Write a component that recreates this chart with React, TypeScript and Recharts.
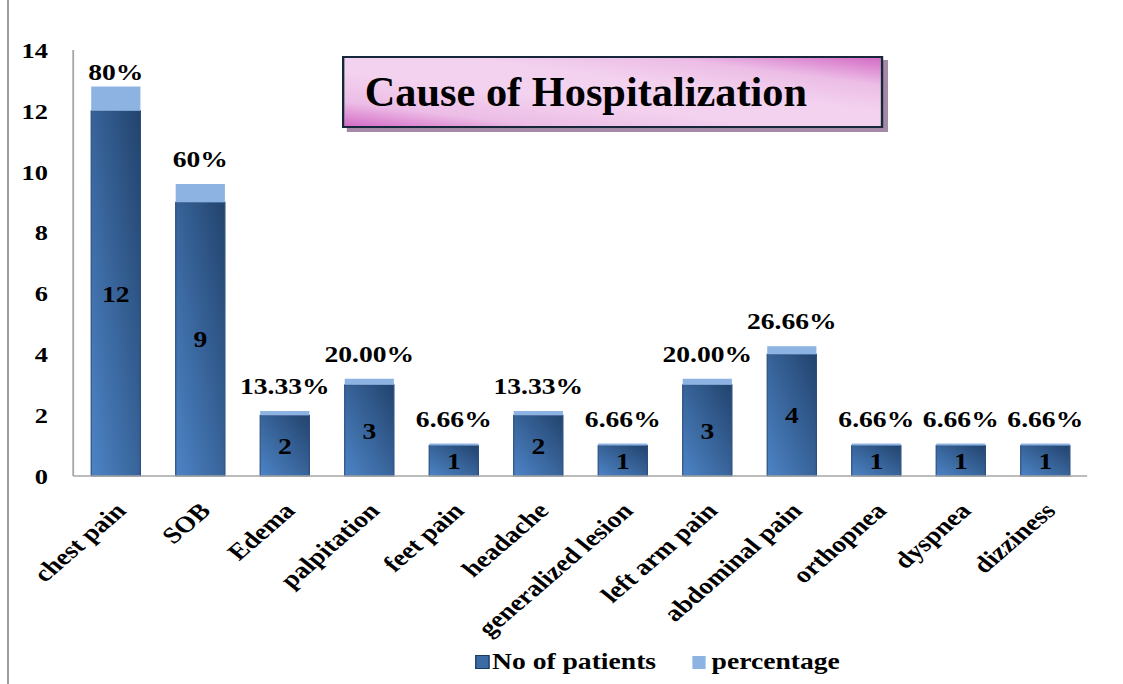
import React from 'react';
import { BarChart, Bar, XAxis, YAxis, LabelList } from 'recharts';

const categories = ['chest pain', 'SOB', 'Edema', 'palpitation', 'feet pain', 'headache', 'generalized lesion', 'left arm pain', 'abdominal pain', 'orthopnea', 'dyspnea', 'dizziness'];
const patients = [12, 9, 2, 3, 1, 2, 1, 3, 4, 1, 1, 1];
const percentage = [0.8, 0.6, 0.1333, 0.2, 0.0666, 0.1333, 0.0666, 0.2, 0.2666, 0.0666, 0.0666, 0.0666];
const pctLabels = ['80%', '60%', '13.33%', '20.00%', '6.66%', '13.33%', '6.66%', '20.00%', '26.66%', '6.66%', '6.66%', '6.66%'];
const yTicks = [0, 2, 4, 6, 8, 10, 12, 14];
const seriesNames = ['No of patients', 'percentage'];
const title = 'Cause of Hospitalization';

const data = categories.map((c, i) => ({
  name: c,
  patients: patients[i],
  percentage: percentage[i],
  pctLabel: pctLabels[i],
}));

const FONT = "'Liberation Serif', 'Times New Roman', serif";
const PLOT_TOP = 50;

const XTick = (props: any) => {
  const { x, y, payload } = props;
  const ax = x + 10;
  const ay = y + 28;
  return (
    <text
      x={ax}
      y={ay}
      textAnchor="end"
      transform={`rotate(-46 ${ax} ${ay})`}
      fontFamily={FONT}
      fontWeight="bold"
      fontSize={23}
      fill="#000"
    >
      {payload.value}
    </text>
  );
};

const renderPct = (props: any) => {
  const { x, y, width, value } = props;
  const cy = Math.max(Number(y) - 25, PLOT_TOP + 22);
  return (
    <text
      x={Number(x) + Number(width) / 2}
      y={cy}
      dy="0.35em"
      textAnchor="middle"
      fontFamily={FONT}
      fontWeight="bold"
      fontSize={23}
      fill="#000"
    >
      {value}
    </text>
  );
};

export default function App() {
  return (
    <div style={{ position: 'absolute', left: 0, top: 0, width: 1123, height: 684, overflow: 'hidden', background: '#fff' }}>
      <div style={{ position: 'absolute', left: 7, top: 0, width: 2, height: 684, background: '#9c9c9c' }} />
      <div style={{ position: 'absolute', left: 0, top: 0, width: 936, height: 684, transform: 'scale(1.2, 1)', transformOrigin: '0 0' }}>
        <BarChart
          width={936}
          height={684}
          data={data}
          margin={{ top: PLOT_TOP, right: 30, left: 0, bottom: 0 }}
        >
          <defs>
            <linearGradient id="patGrad" x1="0" y1="1" x2="1" y2="0">
              <stop offset="0%" stopColor="#4d84c6" />
              <stop offset="100%" stopColor="#22436d" />
            </linearGradient>
          </defs>
          <XAxis
            dataKey="name"
            interval={0}
            height={208}
            tickLine={false}
            axisLine={{ stroke: '#a6a6a6', strokeWidth: 1.5 }}
            tick={<XTick />}
          />
          <YAxis
            width={61}
            domain={[0, 14]}
            ticks={yTicks}
            interval={0}
            tickLine={false}
            tickSize={6}
            tickMargin={15}
            axisLine={{ stroke: '#a6a6a6', strokeWidth: 1.5 }}
            tick={{ fontFamily: FONT, fontWeight: 'bold', fontSize: 22, fill: '#000' }}
          />
          <Bar
            dataKey="patients"
            name={seriesNames[0]}
            stackId="a"
            barSize={41}
            fill="url(#patGrad)"
            stroke="#2a4f80"
            strokeWidth={1}
            isAnimationActive={false}
          >
            <LabelList
              dataKey="patients"
              position="center"
              style={{ fontFamily: FONT, fontWeight: 'bold', fontSize: 23, fill: '#000' }}
            />
          </Bar>
          <Bar
            dataKey="percentage"
            name={seriesNames[1]}
            stackId="a"
            barSize={41}
            fill="#8db3e2"
            isAnimationActive={false}
          >
            <LabelList dataKey="pctLabel" content={renderPct} />
          </Bar>
        </BarChart>

        <div
          style={{
            position: 'absolute',
            left: 285,
            top: 56,
            width: 430,
            height: 68,
            border: '2px solid #17263a',
            background: 'linear-gradient(to top right, #d46cc6 0%, #ecbde6 18%, #f3d2ef 40%, #f3d2ef 60%, #ecbde6 80%, #d46cc6 100%)',
            boxShadow: '4px 4px 0 #a48aa6',
            fontFamily: FONT,
            fontWeight: 'bold',
            fontSize: 42,
            lineHeight: '68px',
            paddingLeft: 17,
            boxSizing: 'content-box',
            color: '#000',
            whiteSpace: 'nowrap',
            overflow: 'visible',
          }}
        >
          <span style={{ display: 'inline-block', transform: 'scaleX(0.84)', transformOrigin: '0 50%' }}>{title}</span>
        </div>

        <div style={{ position: 'absolute', left: 396, top: 649, height: 26, display: 'flex', alignItems: 'center', fontFamily: FONT, fontWeight: 'bold', fontSize: 23, color: '#000', whiteSpace: 'nowrap' }}>
          <span style={{ display: 'inline-block', width: 10, height: 12, background: '#3b6aa5', border: '1px solid #1f3a60', marginRight: 2 }} />
          {seriesNames[0]}
        </div>
        <div style={{ position: 'absolute', left: 577, top: 649, height: 26, display: 'flex', alignItems: 'center', fontFamily: FONT, fontWeight: 'bold', fontSize: 23, color: '#000', whiteSpace: 'nowrap' }}>
          <span style={{ display: 'inline-block', width: 11, height: 13, background: '#8db3e2', marginRight: 5 }} />
          {seriesNames[1]}
        </div>
      </div>
    </div>
  );
}
